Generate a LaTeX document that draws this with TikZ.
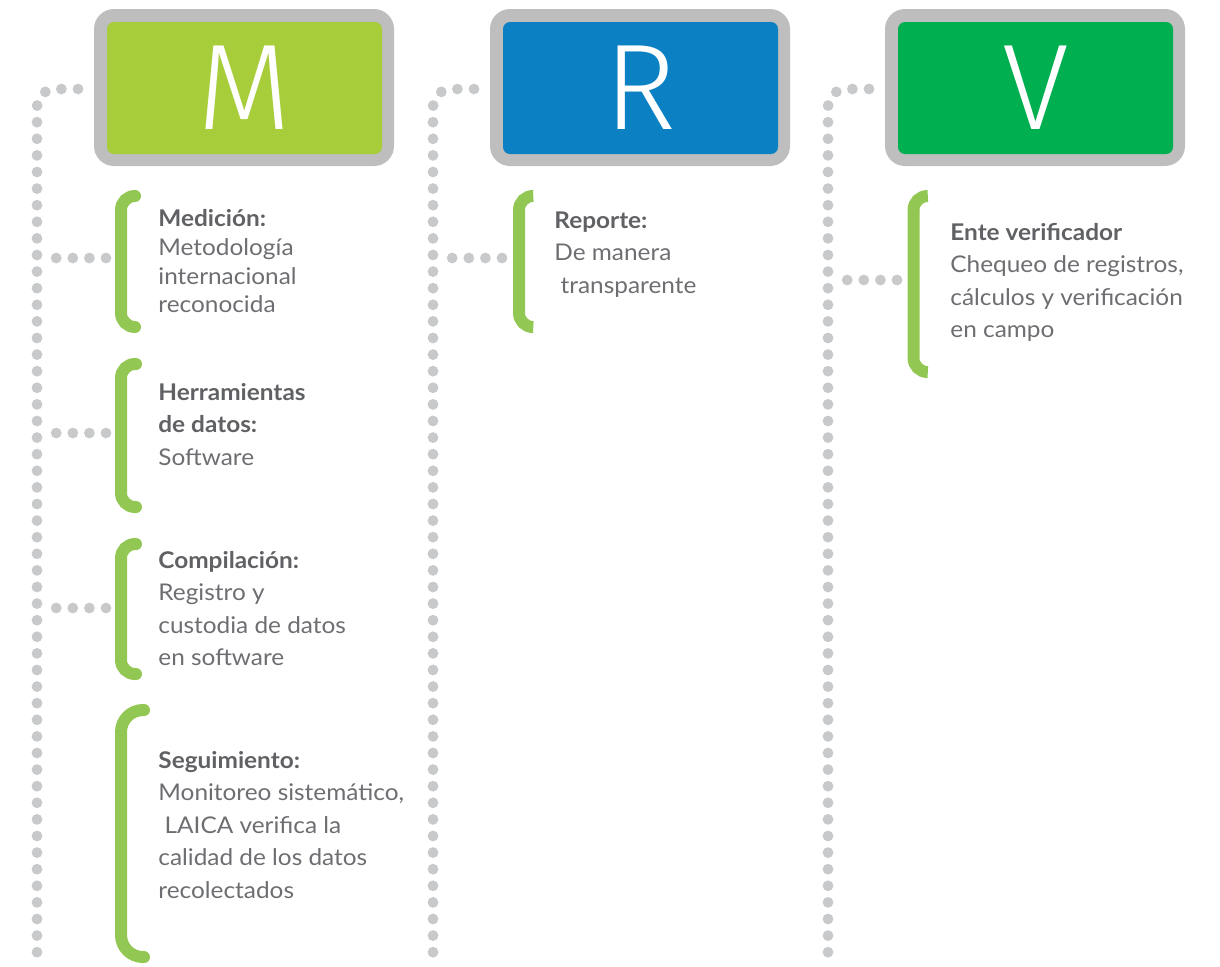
\documentclass[tikz,border=0pt]{standalone}
\usepackage{fontspec}
\setmainfont{Lato}[FakeStretch=1.06]
\newfontfamily\letterfont{Fira Sans Light}
\usetikzlibrary{calc}
\definecolor{framecol}{RGB}{190,190,191}
\definecolor{Mcol}{RGB}{167,205,58}
\definecolor{Rcol}{RGB}{11,129,196}
\definecolor{Vcol}{RGB}{0,175,80}
\definecolor{bracecol}{RGB}{146,199,84}
\definecolor{dotcol}{RGB}{200,201,203}
\definecolor{txtcol}{RGB}{109,110,113}
\definecolor{headcol}{RGB}{96,97,100}
\tikzset{
  dots/.style={dotcol,line width=5.4pt,line cap=round,dash pattern=on 0pt off 8.3pt},
  brace/.style={bracecol,line width=6pt,line cap=round,rounded corners=#1},
  brace/.default=7pt,
  item/.style={anchor=north west,align=left,inner sep=0,text=txtcol,
               font=\fontsize{11.5}{16.25}\selectfont},
  letter/.style={text=white,inner sep=0,font=\letterfont\fontsize{61}{61}\selectfont}
}
\newcommand\head[1]{\rule{0pt}{12pt}{\bfseries\color{headcol}#1}}

\begin{document}
\begin{tikzpicture}[x=0.5pt,y=-0.5pt]
  \useasboundingbox (0,0) rectangle (1220,966);
  \def\gbrace#1#2#3#4{
    \draw[brace] (#1+#4,#2) -- (#1,#2) -- (#1,#3) -- (#1+#4,#3);
  }

  % BOXES AND SPINES
  \foreach \dx/\l/\c in {0/M/Mcol,396/R/Rcol,791/V/Vcol}{
    \fill[framecol,rounded corners=10pt] (94+\dx,9) rectangle (394+\dx,166);
    \fill[\c,rounded corners=3.5pt] (107+\dx,22) rectangle (382+\dx,154);
    \node[letter] (box\l) at (244.5+\dx,88) {\l};
    \coordinate (top\l) at (78+\dx,89);
    \coordinate (bot\l) at (37+\dx,968);
    \draw[dots,rounded corners=9pt] (top\l) -| (bot\l);
  }

  % BRACKETS
  \gbrace{121}{196}{327}{14}
  \gbrace{121}{364}{507}{15}
  \gbrace{121}{544}{674}{15}
  \draw[brace=11pt] (144,710) -- (121,710) -- (121,957) -- (144,957);
  \gbrace{519}{196}{327}{12}
  \gbrace{913.5}{196}{372}{13}

  % BRANCHES
  \foreach \n/\x/\y in {a/106/258,b/106/433,c/106/608,d/502/258,e/897/280}{
    \coordinate (br\n) at (\x,\y);
    \coordinate (bl\n) at (\x-50,\y);
    \draw[dots] (br\n) -- (bl\n);
  }

  % TEXTS
  \node[item,font=\fontsize{11.5}{14.4}\selectfont] (med) at (158,202)
    {\head{Medición:}\\Metodología\\internacional\\reconocida};
  \node[item] (her) at (158,376)
    {\head{Herramientas}\\\head{de datos:}\\Software};
  \node[item] (com) at (158,544)
    {\head{Compilación:}\\Registro y\\custodia de datos\\en software};
  \node[item] (seg) at (158,744)
    {\head{Seguimiento:}\\Monitoreo sistemático,\\\ LAICA verifica la\\calidad de los datos\\recolectados};
  \node[item] (rep) at (554,204)
    {\head{Reporte:}\\De manera\\\ transparente};
  \node[item] (ent) at (950,216)
    {\head{Ente verificador}\\Chequeo de registros,\\cálculos y verificación\\en campo};
\end{tikzpicture}
\end{document}
